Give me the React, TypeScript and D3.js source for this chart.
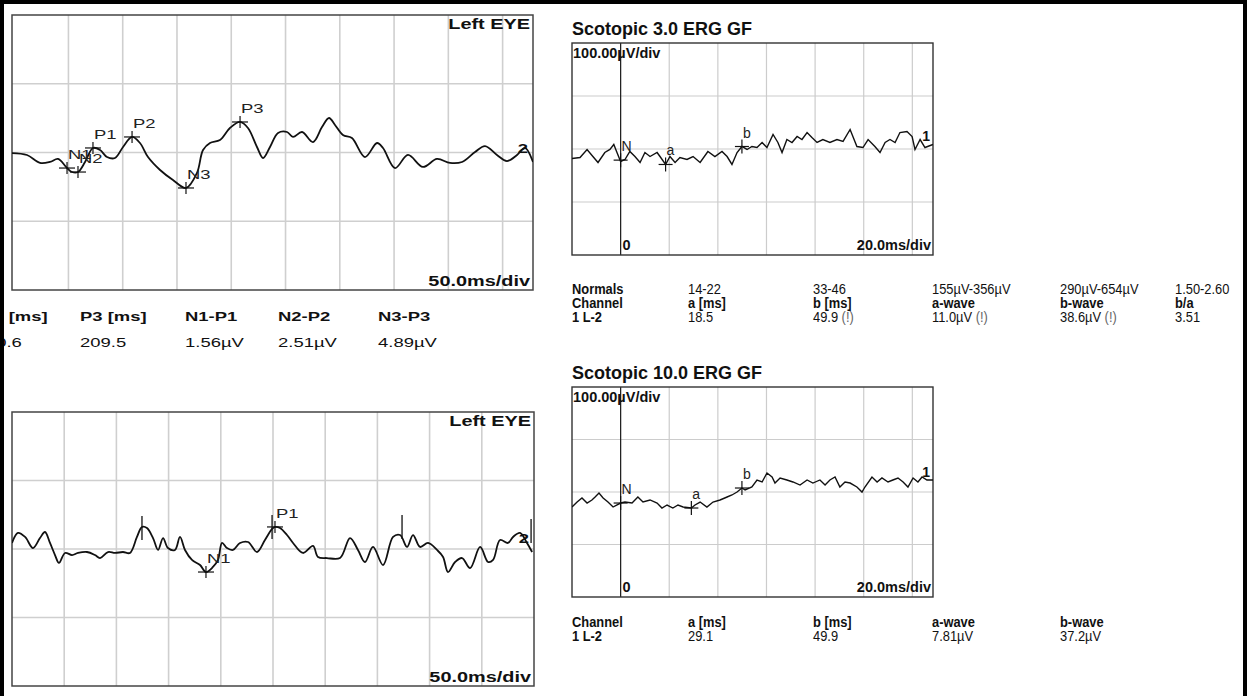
import * as d3 from "d3";

const FONT = '"Liberation Sans", Arial, Helvetica, sans-serif';
const W = 1247;
const H = 696;

// ---------- VEP, upper trace (ms, µV) ----------
const vepTopMs = [-2.0, 11.8, 23.8, 33.0, 40.4, 48.7, 53.3, 58.8, 65.3, 72.6, 79.1, 85.5, 92.9, 100.3, 108.6, 115.9, 123.3, 134.4, 146.3, 158.3, 168.4, 174.0, 180.4, 189.6, 198.8, 208.1, 215.4, 223.7, 229.3, 235.7, 243.1, 251.4, 256.9, 265.2, 275.3, 283.6, 290.1, 295.6, 302.9, 311.2, 323.2, 334.3, 339.8, 350.9, 362.8, 376.6, 389.5, 401.5, 412.6, 424.6, 433.8, 444.8, 454.0, 463.3, 470.6, 478.0];
const vepTopUv = [-0.04, -0.18, -0.76, -0.69, -0.47, -1.13, -1.42, -1.42, -0.69, 0.33, 0.18, -0.33, -0.4, 0.4, 1.13, 0.69, -0.33, -1.27, -2.0, -2.58, -1.49, 0.18, 0.69, 0.91, 1.78, 2.22, 1.78, 0.4, -0.4, 0.4, 1.42, 1.49, 1.13, 1.49, 0.76, 1.85, 2.51, 2.0, 1.27, 1.05, -0.33, 0.69, 0.33, -1.13, -0.18, -1.05, -0.47, -0.76, -0.69, 0.04, 0.47, -0.18, -0.62, -0.18, 0.33, -0.69];
const vepTopPeakNames = ["N1", "N2", "P1", "P2", "N3", "P3"];
const vepTopPeakMs = [48.7, 58.8, 72.6, 108.6, 158.3, 208.1];
const vepTopPeakUv = [-1.13, -1.42, 0.33, 1.13, -2.58, 2.22];

// ---------- VEP, lower trace ----------
const vepLowMs = [0, 5.7, 12.5, 20.1, 26.8, 31.6, 36.4, 41.2, 45.0, 50.8, 57.5, 63.2, 71.8, 79.5, 84.3, 92.0, 98.7, 106.3, 113.0, 119.7, 124.5, 129.3, 135.1, 139.9, 144.7, 149.4, 156.1, 160.9, 165.7, 172.4, 180.1, 185.8, 192.5, 197.3, 201.2, 205.9, 211.7, 218.4, 226.1, 234.7, 242.3, 249.1, 251.9, 256.7, 263.4, 269.2, 278.7, 288.3, 293.1, 301.7, 314.2, 323.8, 331.4, 338.1, 345.8, 355.4, 365.0, 371.7, 378.4, 384.1, 390.9, 398.5, 407.1, 412.9, 417.6, 424.4, 431.1, 438.8, 448.4, 456.0, 460.8, 467.5, 475.1, 479.9, 486.6, 493.3, 498.2];
const vepLowUv = [0.44, 1.17, 0.88, 0.07, 0.8, 1.24, 0.44, -0.44, -1.02, -0.29, -0.44, -0.29, -0.22, -0.44, -0.66, -0.22, -0.29, -0.22, -0.29, 0.88, 1.61, 1.53, 0.8, -0.07, 0.8, 0.07, -0.07, 0.88, -0.07, -0.8, -1.17, -1.68, -1.31, -0.8, 0.44, 0.07, -0.07, 0.44, 0.51, -0.22, 0.66, 1.46, 1.61, 1.53, 1.02, 0.44, -0.29, 0.22, -0.58, -0.66, -0.66, 0.8, -0.07, -0.95, 0.15, -1.17, 0.88, 1.02, 0.15, 1.02, 0.15, 0.44, -0.07, -0.58, -1.68, -0.95, -0.66, -1.39, 0.15, -0.95, -0.8, 0.66, 0.44, 0.88, 1.17, 0.44, -0.22];
const vepLowPeakNames = ["N1", "P1"];
const vepLowPeakMs = [185.8, 251.9];
const vepLowPeakUv = [-1.68, 1.61];
const vepLowTickMs = [124.5, 249.1, 373.6, 497.2];
const vepLowTickUv = [1.53, 1.61, 1.61, 1.31];

// ---------- Scotopic 3.0 ERG (ms, µV) ----------
const erg3Ms = [-20, -16.7, -13.8, -11.4, -9.3, -6.5, -4.4, -2.8, -1.5, 0, 1.8, 3.8, 5.9, 8.0, 10.0, 12.1, 15.0, 16.2, 18.5, 20.3, 22.4, 24.4, 27.3, 29.8, 32.7, 35.9, 38.8, 41.7, 43.8, 45.8, 47.9, 49.9, 52.0, 54.0, 56.1, 58.2, 60.2, 62.7, 64.7, 66.4, 68.4, 70.5, 72.6, 74.6, 76.7, 78.7, 80.8, 83.2, 86.1, 89.0, 91.5, 94.4, 97.2, 99.7, 101.8, 104.6, 106.7, 108.8, 110.8, 112.9, 114.9, 117.8, 119.9, 121.1, 123.2, 125.2, 128.5];
const erg3Uv = [-17.9, -16.0, -0.9, -14.2, -25.5, -6.6, -0.9, 8.5, -6.6, -23.6, -19.8, -4.7, -14.2, -25.5, -6.6, -14.2, -6.6, -14.2, -29.2, -14.2, -25.5, -16.0, -19.8, -14.2, -25.5, -4.7, -14.2, -4.7, -14.2, -29.2, -6.6, 4.7, -0.9, 4.7, 2.8, 12.3, 2.8, 27.4, 12.3, -6.6, 17.9, 12.3, 23.6, 17.9, 31.1, 21.7, 12.3, 17.9, 12.3, 17.9, 14.2, 36.8, 4.7, 2.8, 17.9, 4.7, -6.6, 12.3, 17.9, 12.3, 31.1, 33.0, 23.6, -0.9, 17.9, 2.8, 8.5];
const erg3MarkNames = ["N", "a", "b"];
const erg3MarkMs = [0, 18.5, 49.9];
const erg3MarkUv = [-21, -29.2, 4.7];

// ---------- Scotopic 10.0 ERG ----------
const erg10Ms = [-20, -17.9, -15.9, -13.8, -11.8, -10.5, -8.9, -7.2, -5.2, -3.1, 0, 1.8, 4.7, 7.1, 9.2, 12.1, 15.0, 17.0, 19.1, 21.5, 23.6, 25.7, 29.1, 30.6, 32.7, 35.5, 38.0, 40.9, 43.8, 45.8, 47.9, 49.9, 51.2, 54.0, 56.1, 58.2, 60.2, 62.3, 63.5, 65.6, 68.4, 70.9, 73.8, 76.7, 79.1, 82.0, 84.1, 86.1, 88.2, 90.2, 92.3, 94.4, 97.2, 99.3, 100.5, 103.4, 105.5, 107.5, 110.0, 112.0, 114.1, 116.2, 118.2, 120.3, 122.3, 124.0, 126.0, 128.5];
const erg10Uv = [-28.6, -19.1, -11.4, -21.0, -15.2, -9.5, -1.9, -11.4, -19.1, -28.6, -21.0, -19.1, -21.0, -9.5, -19.1, -15.2, -21.0, -30.5, -24.8, -30.5, -24.8, -28.6, -30.5, -24.8, -19.1, -28.6, -19.1, -15.2, -9.5, -5.7, 0, 7.6, 3.8, 9.5, 22.9, 19.1, 36.2, 28.6, 17.1, 26.7, 22.9, 19.1, 13.3, 22.9, 17.1, 22.9, 13.3, 22.9, 28.6, 9.5, 19.1, 17.1, 9.5, 0, 9.5, 28.6, 19.1, 26.7, 19.1, 22.9, 26.7, 19.1, 9.5, 26.7, 19.1, 28.6, 22.9, 22.9];
const erg10MarkNames = ["N", "a", "b"];
const erg10MarkMs = [0, 29.1, 49.9];
const erg10MarkUv = [-21, -30.5, 7.6];

// grid divisions
const vepGridMs = [50, 100, 150, 200, 250, 300, 350, 400, 450];
const vepGridUv = [-5, 0, 5];
const ergGridMs = [20, 40, 60, 80, 100, 120];
const ergGridUv = [-100, 0, 100];

// tables
const vepTableHead = ["P2 [ms]", "P3 [ms]", "N1-P1", "N2-P2", "N3-P3"];
const vepTableVals = ["110.6", "209.5", "1.56µV", "2.51µV", "4.89µV"];
const erg3Normals = ["Normals", "14-22", "33-46", "155µV-356µV", "290µV-654µV", "1.50-2.60"];
const erg3Head = ["Channel", "a [ms]", "b [ms]", "a-wave", "b-wave", "b/a"];
const erg3Vals = ["1 L-2", "18.5", "49.9 (!)", "11.0µV (!)", "38.6µV (!)", "3.51"];
const erg10Head = ["Channel", "a [ms]", "b [ms]", "a-wave", "b-wave"];
const erg10Vals = ["1 L-2", "29.1", "49.9", "7.81µV", "37.2µV"];

// layout
const SX = 1.42; // the VEP half of the printout is stretched sideways
const vepTopBox = { left: 12, top: 15, right: 533, bottom: 290 };
const vepLowBox = { left: 12, top: 412, right: 534, bottom: 686 };
const erg3Box = { left: 572, top: 43, right: 933, bottom: 255 };
const erg10Box = { left: 572, top: 387, right: 933, bottom: 597 };
const vepHeadX = [-19, 80, 185, 278, 378];
const vepValX = [-23, 80, 185, 278, 378];
const ergColX = [572, 688, 813, 932, 1060, 1175];

function SText({ x, y, sx = SX, anchor = "start", size = 13, weight = "normal", fill = "#111", children }: any) {
  return (
    <text
      transform={`translate(${x},${y}) scale(${sx},1)`}
      textAnchor={anchor}
      fontSize={size}
      fontWeight={weight}
      fill={fill}
      fontFamily={FONT}
    >
      {children}
    </text>
  );
}

function Cross({ cx, cy, w = 8, h = 6, color = "#111" }: any) {
  return (
    <g stroke={color} strokeWidth={1.2}>
      <line x1={cx - w} x2={cx + w} y1={cy} y2={cy} />
      <line x1={cx} x2={cx} y1={cy - h} y2={cy + h} />
    </g>
  );
}

function VepPanel({ id, box, domain, time, amp, names, pTime, pAmp, tickTime = [], tickAmp = [] }: any) {
  const x = d3.scaleLinear().domain(domain).range([box.left, box.right]);
  const y = d3.scaleLinear().domain([-10, 10]).range([box.bottom, box.top]);
  const line = d3
    .line<number>()
    .x((_, i) => x(time[i]))
    .y((d) => y(d))
    .curve(d3.curveCatmullRom.alpha(0.5));
  const last = amp[amp.length - 1];
  return (
    <g>
      <clipPath id={id}>
        <rect x={box.left} y={box.top} width={box.right - box.left} height={box.bottom - box.top} />
      </clipPath>
      <g stroke="#cfcfcf" strokeWidth={1.6}>
        {vepGridMs.map((t) => (
          <line key={t} x1={x(t)} x2={x(t)} y1={box.top} y2={box.bottom} />
        ))}
        {vepGridUv.map((v) => (
          <line key={v} x1={box.left} x2={box.right} y1={y(v)} y2={y(v)} />
        ))}
      </g>
      <rect
        x={box.left}
        y={box.top}
        width={box.right - box.left}
        height={box.bottom - box.top}
        fill="none"
        stroke="#444"
        strokeWidth={1.5}
      />
      <path d={line(amp) || ""} fill="none" stroke="#111" strokeWidth={1.8} clipPath={`url(#${id})`} />
      {tickTime.map((t: number, i: number) => (
        <line key={t} x1={x(t)} x2={x(t)} y1={y(tickAmp[i]) - 12} y2={y(tickAmp[i]) + 12} stroke="#111" strokeWidth={1.3} />
      ))}
      {names.map((n: string, i: number) => (
        <g key={n}>
          <Cross cx={x(pTime[i])} cy={y(pAmp[i])} />
          <SText x={x(pTime[i]) + 1} y={y(pAmp[i]) - 9} fill="#222">
            {n}
          </SText>
        </g>
      ))}
      <SText x={box.right - 5} y={y(last) - 9} anchor="end" weight="bold">
        2
      </SText>
      <SText x={box.right - 3} y={box.top + 14} anchor="end" size={14} weight="bold">
        Left EYE
      </SText>
      <SText x={box.right - 3} y={box.bottom - 4} anchor="end" size={14} weight="bold">
        50.0ms/div
      </SText>
    </g>
  );
}

function ErgPanel({ id, box, title, time, amp, names, mTime, mAmp }: any) {
  const x = d3.scaleLinear().domain([-20, 128.5]).range([box.left, box.right]);
  const y = d3.scaleLinear().domain([-200, 200]).range([box.bottom, box.top]);
  const line = d3
    .line<number>()
    .x((_, i) => x(time[i]))
    .y((d) => y(d));
  const last = amp[amp.length - 1];
  return (
    <g fontFamily={FONT}>
      <text x={box.left} y={box.top - 8} fontSize={18} fontWeight="bold" fill="#111">
        {title}
      </text>
      <clipPath id={id}>
        <rect x={box.left} y={box.top} width={box.right - box.left} height={box.bottom - box.top} />
      </clipPath>
      <g stroke="#cccccc" strokeWidth={1.2}>
        {ergGridMs.map((t) => (
          <line key={t} x1={x(t)} x2={x(t)} y1={box.top} y2={box.bottom} />
        ))}
        {ergGridUv.map((v) => (
          <line key={v} x1={box.left} x2={box.right} y1={y(v)} y2={y(v)} />
        ))}
      </g>
      <line x1={x(0)} x2={x(0)} y1={box.top} y2={box.bottom} stroke="#222" strokeWidth={1.3} />
      <rect
        x={box.left}
        y={box.top}
        width={box.right - box.left}
        height={box.bottom - box.top}
        fill="none"
        stroke="#333"
        strokeWidth={1.4}
      />
      <path d={line(amp) || ""} fill="none" stroke="#111" strokeWidth={1.4} clipPath={`url(#${id})`} />
      {names.map((n: string, i: number) => (
        <g key={n}>
          <Cross cx={x(mTime[i])} cy={y(mAmp[i])} w={7} h={7} />
          <text x={x(mTime[i]) + 1} y={y(mAmp[i]) - 9} fontSize={14} fill="#222">
            {n}
          </text>
        </g>
      ))}
      <text x={box.right - 3} y={y(last) - 3} textAnchor="end" fontSize={14} fontWeight="bold" fill="#111">
        1
      </text>
      <text x={box.left + 1} y={box.top + 15} fontSize={14.5} fontWeight="bold" fill="#111">
        100.00µV/div
      </text>
      <text x={x(0) + 2} y={box.bottom - 5} fontSize={14.5} fontWeight="bold" fill="#111">
        0
      </text>
      <text x={box.right - 2} y={box.bottom - 5} textAnchor="end" fontSize={14.5} fontWeight="bold" fill="#111">
        20.0ms/div
      </text>
    </g>
  );
}

// ERG result tables use a tall, narrow face
function Cell({ x, y, label, bold }: any) {
  const warn = label.endsWith(" (!)");
  const main = warn ? label.slice(0, -4) : label;
  return (
    <text
      transform={`translate(${x},${y}) scale(0.92,1)`}
      fontSize={14}
      fontWeight={bold ? "bold" : "normal"}
      fill="#111"
      fontFamily={FONT}
    >
      {main}
      {warn && <tspan fill="#666"> (!)</tspan>}
    </text>
  );
}

export default function App() {
  return (
    <svg
      width={W}
      height={H}
      viewBox={`0 0 ${W} ${H}`}
      style={{ position: "absolute", left: 0, top: 0, background: "#fff" }}
    >
      <rect width={W} height={H} fill="#fff" />

      <VepPanel
        id="clipVepTop"
        box={vepTopBox}
        domain={[-2, 478]}
        time={vepTopMs}
        amp={vepTopUv}
        names={vepTopPeakNames}
        pTime={vepTopPeakMs}
        pAmp={vepTopPeakUv}
      />
      <VepPanel
        id="clipVepLow"
        box={vepLowBox}
        domain={[0, 500]}
        time={vepLowMs}
        amp={vepLowUv}
        names={vepLowPeakNames}
        pTime={vepLowPeakMs}
        pAmp={vepLowPeakUv}
        tickTime={vepLowTickMs}
        tickAmp={vepLowTickUv}
      />

      {/* VEP table, cut off at the left edge of the printout */}
      {vepTableHead.map((h, i) => (
        <SText key={h} x={vepHeadX[i]} y={321} weight="bold">
          {h}
        </SText>
      ))}
      {vepTableVals.map((v, i) => (
        <SText key={v} x={vepValX[i]} y={347}>
          {v}
        </SText>
      ))}

      <ErgPanel
        id="clipErg3"
        box={erg3Box}
        title="Scotopic 3.0 ERG GF"
        time={erg3Ms}
        amp={erg3Uv}
        names={erg3MarkNames}
        mTime={erg3MarkMs}
        mAmp={erg3MarkUv}
      />
      <ErgPanel
        id="clipErg10"
        box={erg10Box}
        title="Scotopic 10.0 ERG GF"
        time={erg10Ms}
        amp={erg10Uv}
        names={erg10MarkNames}
        mTime={erg10MarkMs}
        mAmp={erg10MarkUv}
      />

      {erg3Normals.map((v, i) => (
        <Cell key={v} x={ergColX[i]} y={294} label={v} bold={i === 0} />
      ))}
      {erg3Head.map((v, i) => (
        <Cell key={v} x={ergColX[i]} y={308} label={v} bold />
      ))}
      {erg3Vals.map((v, i) => (
        <Cell key={v} x={ergColX[i]} y={322} label={v} bold={i === 0} />
      ))}
      {erg10Head.map((v, i) => (
        <Cell key={v} x={ergColX[i]} y={627} label={v} bold />
      ))}
      {erg10Vals.map((v, i) => (
        <Cell key={v} x={ergColX[i]} y={641} label={v} bold={i === 0} />
      ))}

      {/* page border */}
      <g stroke="#000" strokeWidth={4}>
        <line x1={0} x2={W} y1={2} y2={2} />
        <line x1={2} x2={2} y1={0} y2={H} />
        <line x1={W - 2} x2={W - 2} y1={0} y2={H} />
      </g>
    </svg>
  );
}
